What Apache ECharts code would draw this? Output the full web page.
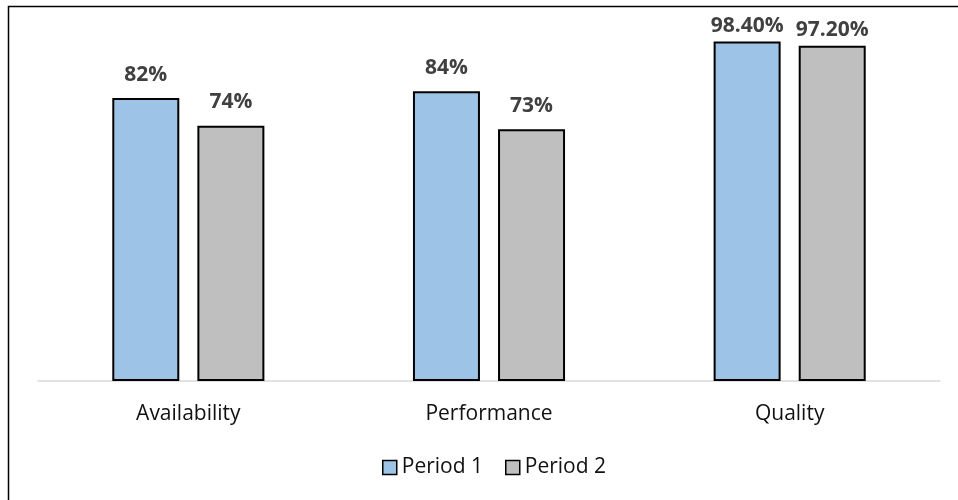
<!DOCTYPE html>
<html>
<head>
<meta charset="utf-8">
<script src="https://cdn.jsdelivr.net/npm/echarts@6/dist/echarts.min.js"></script>
<style>
  html, body { margin: 0; padding: 0; background: #fff; }
  #chart { width: 958px; height: 500px; }
</style>
</head>
<body>
<div id="chart"></div>
<script>
// OEE components for two periods (percent)
const categories = ['Availability', 'Performance', 'Quality'];
const seriesNames = ['Period 1', 'Period 2'];
const period1 = [82, 84, 98.4];
const period2 = [74, 73, 97.2];
const valueLabels1 = ['82%', '84%', '98.40%'];
const valueLabels2 = ['74%', '73%', '97.20%'];

const FONT = '"Open Sans", "Liberation Sans", sans-serif';
const colors = ['#9DC3E6', '#BFBFBF'];

// labels near the top of the plot get pulled closer to their bar
function buildData(values) {
  return values.map(v => (v > 95 ? { value: v, label: { distance: 5 } } : { value: v }));
}

function barSeries(name, values, texts, color) {
  return {
    name: name,
    type: 'bar',
    barWidth: 67,
    barGap: '27%',
    data: buildData(values),
    itemStyle: { color: color, borderColor: '#000', borderWidth: 2 },
    label: {
      show: true,
      position: 'top',
      distance: 13,
      fontFamily: FONT,
      fontSize: 21,
      fontWeight: 'bold',
      color: '#404040',
      formatter: p => texts[p.dataIndex]
    },
    emphasis: { disabled: true }
  };
}

const chart = echarts.init(document.getElementById('chart'), null, { renderer: 'canvas' });
chart.setOption({
  animation: false,
  backgroundColor: '#fff',
  textStyle: { fontFamily: FONT },
  graphic: [{
    type: 'rect',
    shape: { x: 8.5, y: 6.5, width: 1000, height: 600 },
    style: { fill: 'none', stroke: '#000', lineWidth: 1.5 },
    silent: true
  }],
  grid: { left: 38, right: 18, top: 36, bottom: 119 },
  legend: {
    data: seriesNames,
    left: 377,
    top: 452,
    itemWidth: 14,
    itemHeight: 14,
    itemGap: 22,
    icon: 'rect',
    itemStyle: { borderColor: '#000', borderWidth: 1.5 },
    textStyle: { fontFamily: FONT, fontSize: 21, color: '#111' }
  },
  xAxis: {
    type: 'category',
    data: categories,
    axisLine: { lineStyle: { color: '#D9D9D9', width: 1.5 } },
    axisTick: { show: false },
    axisLabel: { fontFamily: FONT, fontSize: 21, color: '#111', margin: 23 }
  },
  yAxis: {
    type: 'value',
    min: 0,
    max: 100,
    show: false,
    splitLine: { show: false }
  },
  series: [
    barSeries(seriesNames[0], period1, valueLabels1, colors[0]),
    barSeries(seriesNames[1], period2, valueLabels2, colors[1])
  ]
});
</script>
</body>
</html>
